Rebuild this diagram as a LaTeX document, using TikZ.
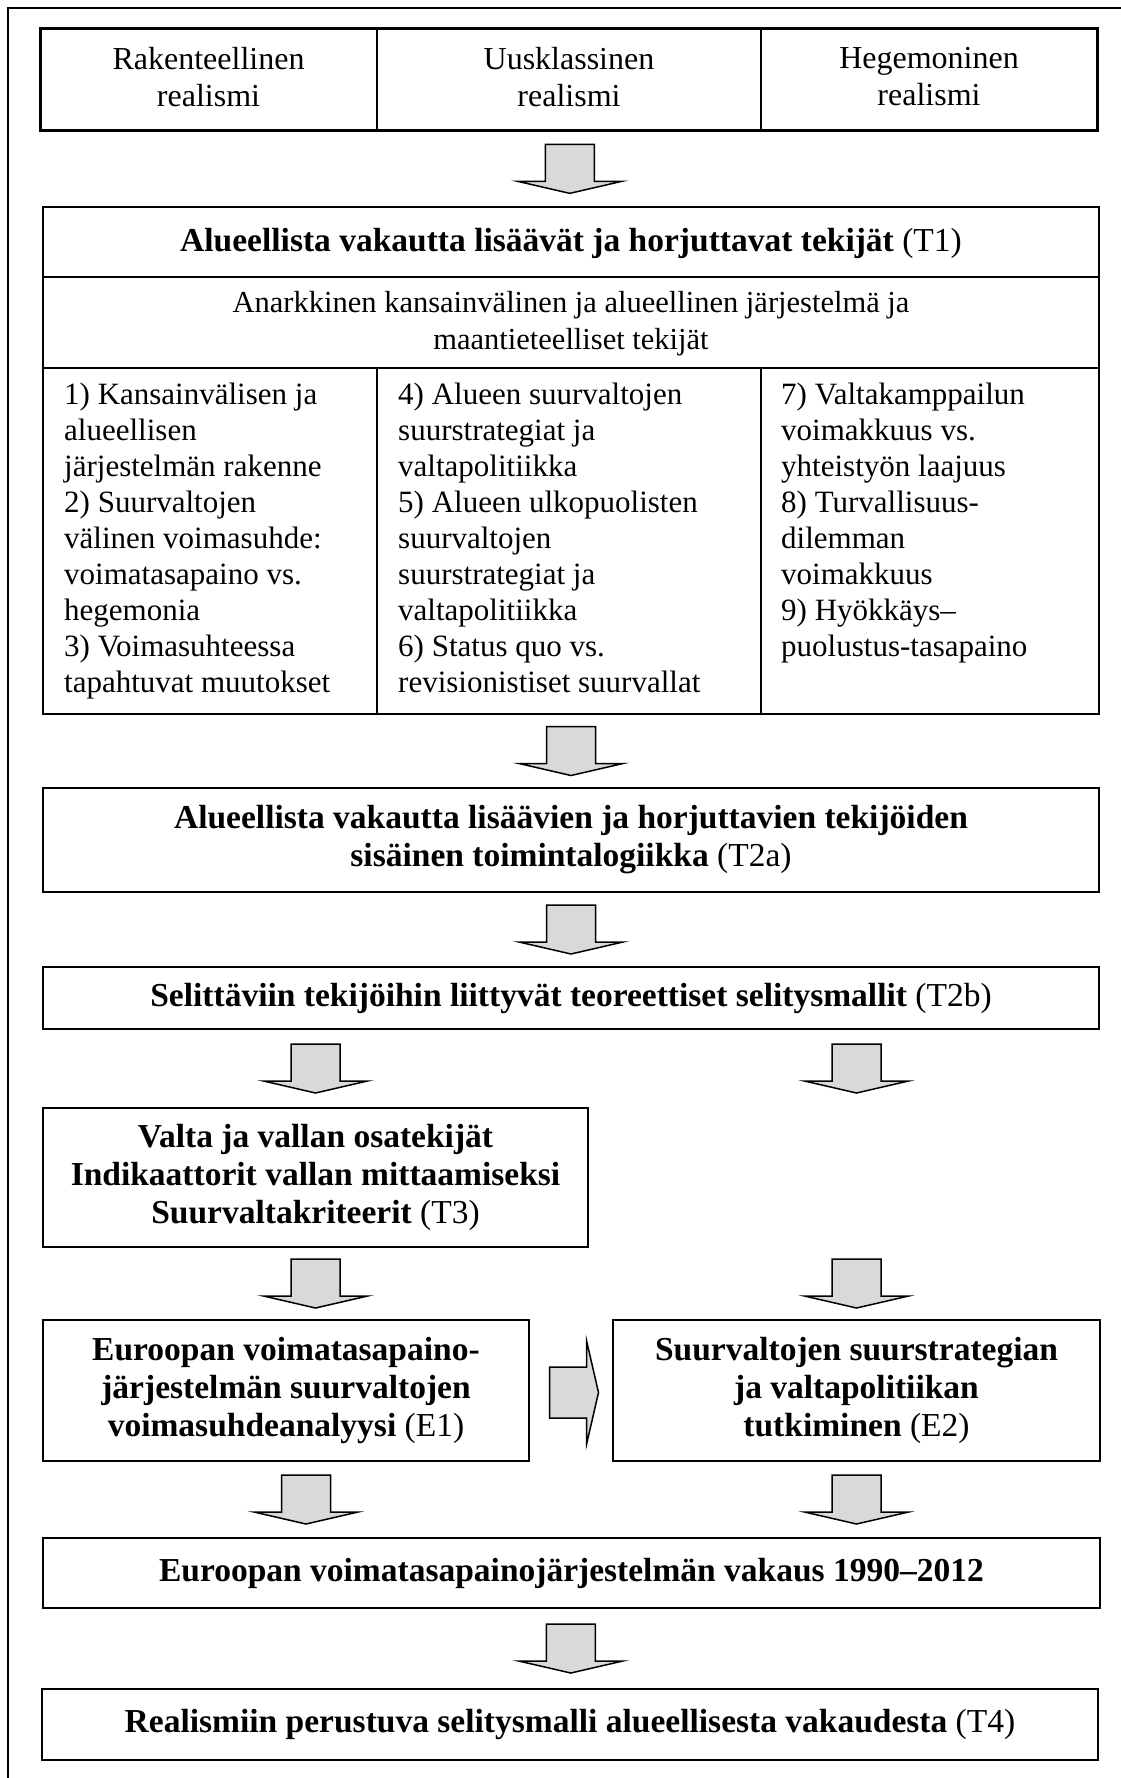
\documentclass[tikz,border=0pt]{standalone}
\usepackage{fontspec}
\setmainfont{Liberation Serif}
\usetikzlibrary{calc}
\definecolor{arrowgray}{HTML}{D9D9D9}

% block arrow pointing down, centred on the given coordinate
\newcommand\downblock[1]{%
  \draw[blockarrow] (#1) ++(-24.5,-24.5) -- ++(49,0) -- ++(0,37) -- ++(27.5,0)
    -- ++(-52,12) -- ++(-52,-12) -- ++(27.5,0) -- cycle;}
% block arrow pointing right, centred on the given coordinate
\newcommand\rightblock[1]{%
  \draw[blockarrow] (#1) ++(-24.5,-25.5) -- ++(37,0) -- ++(0,-26.5) -- ++(12,52)
    -- ++(-12,52) -- ++(0,-26.5) -- ++(-37,0) -- cycle;}

\begin{document}
\begin{tikzpicture}[x=1pt,y=-1pt,
  box/.style={draw=black, line width=1.6pt, rectangle, inner sep=0pt, align=center,
    font=\fontsize{33.5}{38}\selectfont},
  headbox/.style={draw=black, line width=3pt, rectangle, inner sep=0pt},
  cell/.style={inner sep=0pt, align=center, font=\fontsize{32}{37}\selectfont},
  coltext/.style={inner sep=0pt, anchor=north west, align=left,
    font=\fontsize{31}{36}\selectfont},
  rule/.style={line width=1.3pt, draw=black},
  frame/.style={line width=2pt, draw=black},
  blockarrow/.style={draw=black, line width=1.5pt, fill=arrowgray, line join=miter},
]
\useasboundingbox (0,0) rectangle (1121,1778);

% page frame (open to the right and bottom)
\begin{scope}
  \clip (0,0) rectangle (1121,1778);
  \draw[frame] (8,1800) -- (8,8) -- (1140,8);
\end{scope}

% three schools of realism
\node[headbox, minimum width=1057pt, minimum height=102pt] (top) at (568.5,79) {};
\draw[rule] (377,28) -- (377,130);
\draw[rule] (761,28) -- (761,130);
\node[cell] (rak) at (208.5,77) {Rakenteellinen\\realismi};
\node[cell] (uus) at (569,77) {Uusklassinen\\realismi};
\node[cell] (heg) at (929,77) {Hegemoninen\\realismi};

% T1 table
\node[box, minimum width=1056pt, minimum height=507pt] (t1) at (571,460.5) {};
\draw[rule] (43,277) -- (1099,277);
\draw[rule] (43,368) -- (1099,368);
\draw[rule] (377,368) -- (377,714);
\draw[rule] (761,368) -- (761,714);
\node[cell, font=\fontsize{33.5}{38}\selectfont] (t1head) at (571,243)
  {\textbf{Alueellista vakautta lisäävät ja horjuttavat tekijät} (T1)};
\node[cell, font=\fontsize{30.5}{37}\selectfont] (t1sub) at (571,324)
  {Anarkkinen kansainvälinen ja alueellinen järjestelmä ja\\maantieteelliset tekijät};
\node[coltext] (col1) at (64,379) {\strut 1) Kansainvälisen ja\\alueellisen\\järjestelmän rakenne\\2) Suurvaltojen\\välinen voimasuhde:\\voimatasapaino vs.\\hegemonia\\3) Voimasuhteessa\\tapahtuvat muutokset};
\node[coltext] (col2) at (398,379) {\strut 4) Alueen suurvaltojen\\suurstrategiat ja\\valtapolitiikka\\5) Alueen ulkopuolisten\\suurvaltojen\\suurstrategiat ja\\valtapolitiikka\\6) Status quo vs.\\revisionistiset suurvallat};
\node[coltext] (col3) at (781,379) {\strut 7) Valtakamppailun\\voimakkuus vs.\\yhteistyön laajuus\\8) Turvallisuus-\\dilemman\\voimakkuus\\9) Hyökkäys–\\puolustus-tasapaino};

% theory boxes
\node[box, minimum width=1056pt, minimum height=104pt] (t2a) at (571,840)
  {\textbf{Alueellista vakautta lisäävien ja horjuttavien tekijöiden}\\\textbf{sisäinen toimintalogiikka} (T2a)};
\node[box, minimum width=1056pt, minimum height=62pt] (t2b) at (571,998)
  {\textbf{Selittäviin tekijöihin liittyvät teoreettiset selitysmallit} (T2b)};
\node[box, minimum width=545pt, minimum height=139pt] (t3) at (315.5,1177.5)
  {\textbf{Valta ja vallan osatekijät}\\\textbf{Indikaattorit vallan mittaamiseksi}\\\textbf{Suurvaltakriteerit} (T3)};

% empirical boxes
\node[box, minimum width=486pt, minimum height=141pt] (e1) at (286,1390.5)
  {\textbf{Euroopan voimatasapaino-}\\\textbf{järjestelmän suurvaltojen}\\\textbf{voimasuhdeanalyysi} (E1)};
\node[box, minimum width=487pt, minimum height=141pt] (e2) at (856.5,1390.5)
  {\textbf{Suurvaltojen suurstrategian}\\\textbf{ja valtapolitiikan}\\\textbf{tutkiminen} (E2)};
\node[box, minimum width=1057pt, minimum height=70pt] (stab) at (571.5,1573)
  {\textbf{Euroopan voimatasapainojärjestelmän vakaus 1990–2012}};
\node[box, minimum width=1056pt, minimum height=71pt] (t4) at (570,1724.5)
  {\textbf{Realismiin perustuva selitysmalli alueellisesta vakaudesta} (T4)};

% connector positions
\coordinate (a1) at ($(top.south)!0.5!(t1.north)$);
\coordinate (a2) at ($(t1.south)!0.5!(t2a.north)$);
\coordinate (a3) at ($(t2a.south)!0.5!(t2b.north)$);
\coordinate (a4l) at ($(t2b.south -| t3.north)!0.5!(t3.north)$);
\coordinate (a4r) at (a4l -| e2.north);
\coordinate (a5l) at ($(t3.south)!0.5!(e1.north -| t3.south)$);
\coordinate (a5r) at (a5l -| e2.north);
\coordinate (ah) at ($(e1.east)!0.5!(e2.west)+(3,2)$);
\coordinate (a6l) at ($(e1.south)!0.5!(e1.south |- stab.north)+(20,0)$);
\coordinate (a6r) at (a6l -| e2.south);
\coordinate (a7) at ($(stab.south)!0.5!(t4.north)$);

% block arrows
\downblock{a1}
\downblock{a2}
\downblock{a3}
\downblock{a4l}
\downblock{a4r}
\downblock{a5l}
\downblock{a5r}
\rightblock{ah}
\downblock{a6l}
\downblock{a6r}
\downblock{a7}
\end{tikzpicture}
\end{document}
